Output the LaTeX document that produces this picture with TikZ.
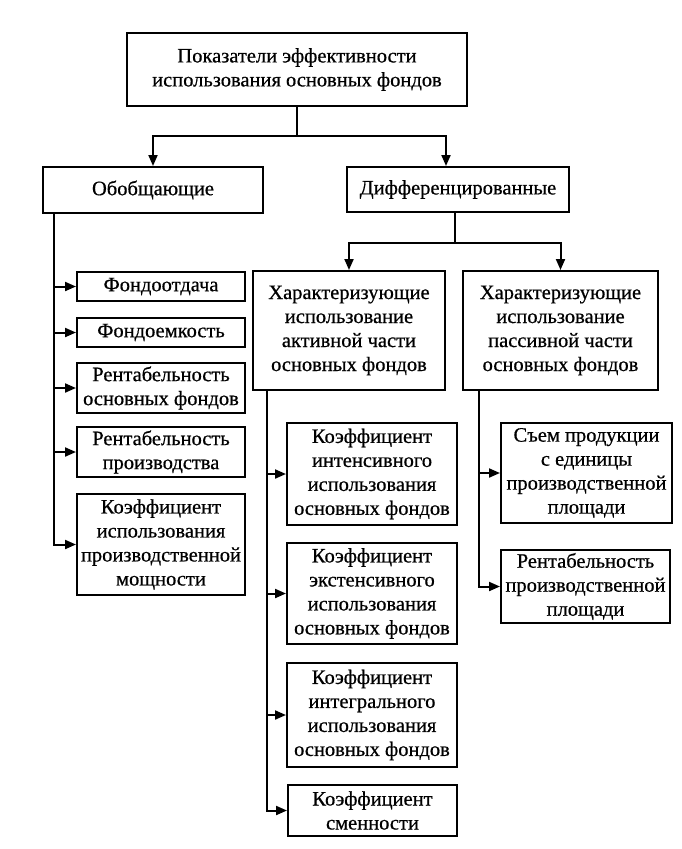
\documentclass[tikz,border=0pt]{standalone}
\usepackage{fontspec}
\setmainfont{Liberation Serif}
\newfontfamily\tfont[FakeBold=0.6]{Liberation Serif}
\usetikzlibrary{arrows.meta}
\begin{document}
\begin{tikzpicture}[x=1pt,y=-1pt,
  box/.style={draw, line width=2pt, rectangle, inner sep=0pt, align=center,
    font=\tfont\fontsize{20.5}{24}\selectfont},
  arr/.style={line width=2pt, -{Triangle[length=11pt,width=9pt]}},
  ln/.style={line width=2pt}]
\useasboundingbox (0,0) rectangle (681,849);
\node[box, minimum width=340, minimum height=73] (top) at (297,69.5) {Показатели эффективности\\использования основных фондов};
\node[box, minimum width=220, minimum height=46] (gen) at (153,190) {Обобщающие};
\node[box, minimum width=222, minimum height=45] (dif) at (458,189.5) {Дифференцированные};
\node[box, minimum width=168, minimum height=29] (l1) at (161,286.5) {Фондоотдача};
\node[box, minimum width=168, minimum height=29] (l2) at (161,332.5) {Фондоемкость};
\node[box, minimum width=168, minimum height=50] (l3) at (161,388) {Рентабельность\\основных фондов};
\node[box, minimum width=168, minimum height=50] (l4) at (161,452) {Рентабельность\\производства};
\node[box, minimum width=168, minimum height=101] (l5) at (161,544.5) {Коэффициент\\использования\\производственной\\мощности};
\node[box, minimum width=192, minimum height=119] (act) at (349,330.5) {Характеризующие\\использование\\активной части\\основных фондов};
\node[box, minimum width=195, minimum height=119] (pas) at (560.5,330.5) {Характеризующие\\использование\\пассивной части\\основных фондов};
\node[box, minimum width=170, minimum height=102] (a1) at (372,474) {Коэффициент\\интенсивного\\использования\\основных фондов};
\node[box, minimum width=170, minimum height=101] (a2) at (372,593.5) {Коэффициент\\экстенсивного\\использования\\основных фондов};
\node[box, minimum width=170, minimum height=104] (a3) at (372,715) {Коэффициент\\интегрального\\использования\\основных фондов};
\node[box, minimum width=169, minimum height=51] (a4) at (372.5,810.5) {Коэффициент\\сменности};
\node[box, minimum width=171, minimum height=100] (p1) at (586.5,473) {Съем продукции\\с единицы\\производственной\\площади};
\node[box, minimum width=169, minimum height=73] (p2) at (585.5,586.5) {Рентабельность\\производственной\\площади};
% top split
\coordinate (j1) at ([yshift=-29pt]top.south);
\draw[ln] (top.south) -- (j1);
\draw[arr] (j1) -| (gen.north);
\draw[arr] (j1) -| ([xshift=-12pt]dif.north);
% left branch
\coordinate (g0) at ([xshift=12pt]gen.south west);
\foreach \n in {l1,l2,l3,l4,l5} \draw[arr] (g0) |- (\n.west);
% differentiated split
\coordinate (d0) at ([xshift=-3pt]dif.south);
\coordinate (j2) at ([yshift=27pt]act.north -| d0);
\draw[ln] (d0) -- (j2);
\draw[arr] (j2) -| (act.north);
\draw[arr] (j2) -| (pas.north);
% active branch
\coordinate (c0) at ([xshift=15pt]act.south west);
\foreach \n in {a1,a2,a3,a4} \draw[arr] (c0) |- (\n.west);
% passive branch
\coordinate (q0) at ([xshift=17pt]pas.south west);
\foreach \n in {p1,p2} \draw[arr] (q0) |- (\n.west);
\end{tikzpicture}
\end{document}
